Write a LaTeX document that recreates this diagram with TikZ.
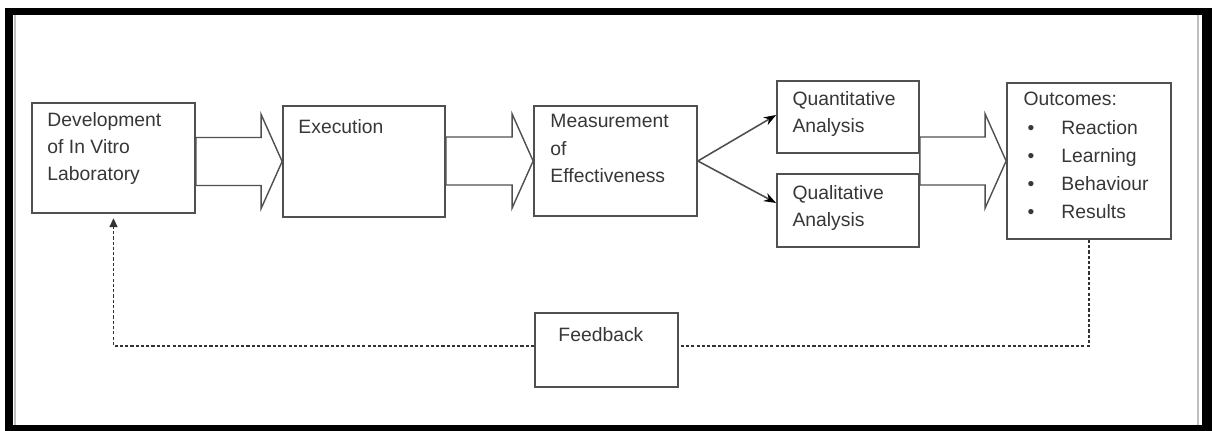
\documentclass[tikz,border=0pt]{standalone}
\usepackage{fontspec}
\setmainfont{Liberation Sans}
\usetikzlibrary{calc,arrows.meta}
\definecolor{boxgray}{RGB}{80,80,80}
\definecolor{txtgray}{RGB}{55,55,55}
\newcommand{\bigarrow}[2]{%
  \coordinate (tip) at (#2.west);
  \coordinate (tail) at (#1.east |- tip);
  \draw[blockline] ($(tail)+(0,-24)$) -- ($(tip)+(-21,-24)$) -- ($(tip)+(-21,-47)$) -- (tip)
    -- ($(tip)+(-21,47)$) -- ($(tip)+(-21,24)$) -- ($(tail)+(0,24)$) -- cycle;}
\newcommand{\bul}{\hspace{0.08cm}\makebox[0.68cm][l]{\textbullet}}
\begin{document}
\begin{tikzpicture}[x=0.02cm,y=-0.02cm,
    box/.style={draw=boxgray, line width=1pt, inner sep=0pt},
    txt/.style={anchor=north west, inner sep=0pt, align=left, text=txtgray,
      font=\fontsize{11}{15.5}\selectfont},
    blockline/.style={draw=boxgray, line width=0.8pt, line join=miter},
    thinarrow/.style={draw=boxgray, line width=0.9pt, -{Stealth[length=7pt,width=5pt,color=black]}},
    fbline/.style={draw=black!80, line width=1pt, dash pattern=on 1.8pt off 1.2pt}]
  \useasboundingbox (0,0) rectangle (1212,431);
  \fill[black] (5,8) rectangle (1212,431);
  \fill[white] (13,15) rectangle (1202,425);
  \draw[gray!50, line width=1.5pt] (15,15) -- (15,425);
  \draw[gray!50, line width=0.6pt] (1198,15) -- (1198,425);

  \node[box, minimum width=3.26cm, minimum height=2.2cm] (dev) at (113.5,158) {};
  \node[box, minimum width=3.24cm, minimum height=2.22cm] (exe) at (364,161.5) {};
  \node[box, minimum width=3.26cm, minimum height=2.2cm] (meas) at (615.5,161) {};
  \node[box, minimum width=2.84cm, minimum height=1.44cm] (quant) at (848,117) {};
  \node[box, minimum width=2.84cm, minimum height=1.46cm] (qual) at (848,210.5) {};
  \node[box, minimum width=3.28cm, minimum height=3.12cm] (outc) at (1089,161) {};
  \node[box, minimum width=2.86cm, minimum height=1.48cm] (fb) at (606.5,350) {};

  \node[txt] (devtxt) at ($(dev.north west)+(16,10)$) {Development\\of In Vitro\\Laboratory};
  \node[txt] (exetxt) at ($(exe.north west)+(16,14)$) {Execution};
  \node[txt] (meastxt) at ($(meas.north west)+(17,9)$) {Measurement\\of\\Effectiveness};
  \node[txt] (quanttxt) at ($(quant.north west)+(16,11)$) {Quantitative\\Analysis};
  \node[txt] (qualtxt) at ($(qual.north west)+(16,12)$) {Qualitative\\Analysis};
  \node[txt, font=\fontsize{11}{16}\selectfont] (outctxt) at ($(outc.north west)+(17,10)$)
    {Outcomes:\\\bul Reaction\\\bul Learning\\\bul Behaviour\\\bul Results};
  \node[txt] (fbtxt) at ($(fb.north west)+(24,15)$) {Feedback};

  \bigarrow{dev}{exe}
  \bigarrow{exe}{meas}
  \bigarrow{quant}{outc}

  \draw[thinarrow] (meas.east) -- ($(quant.west)+(0,-2)$);
  \draw[thinarrow] (meas.east) -- ($(qual.west)+(0,-7.5)$);

  \draw[fbline] (outc.south) |- ($(fb.east)+(0,-4)$);
  \draw[fbline, -{Triangle[length=5pt,width=4.5pt]}, shorten >=2.5pt]
    ($(fb.west)+(0,-4)$) -| (dev.south);
\end{tikzpicture}
\end{document}
